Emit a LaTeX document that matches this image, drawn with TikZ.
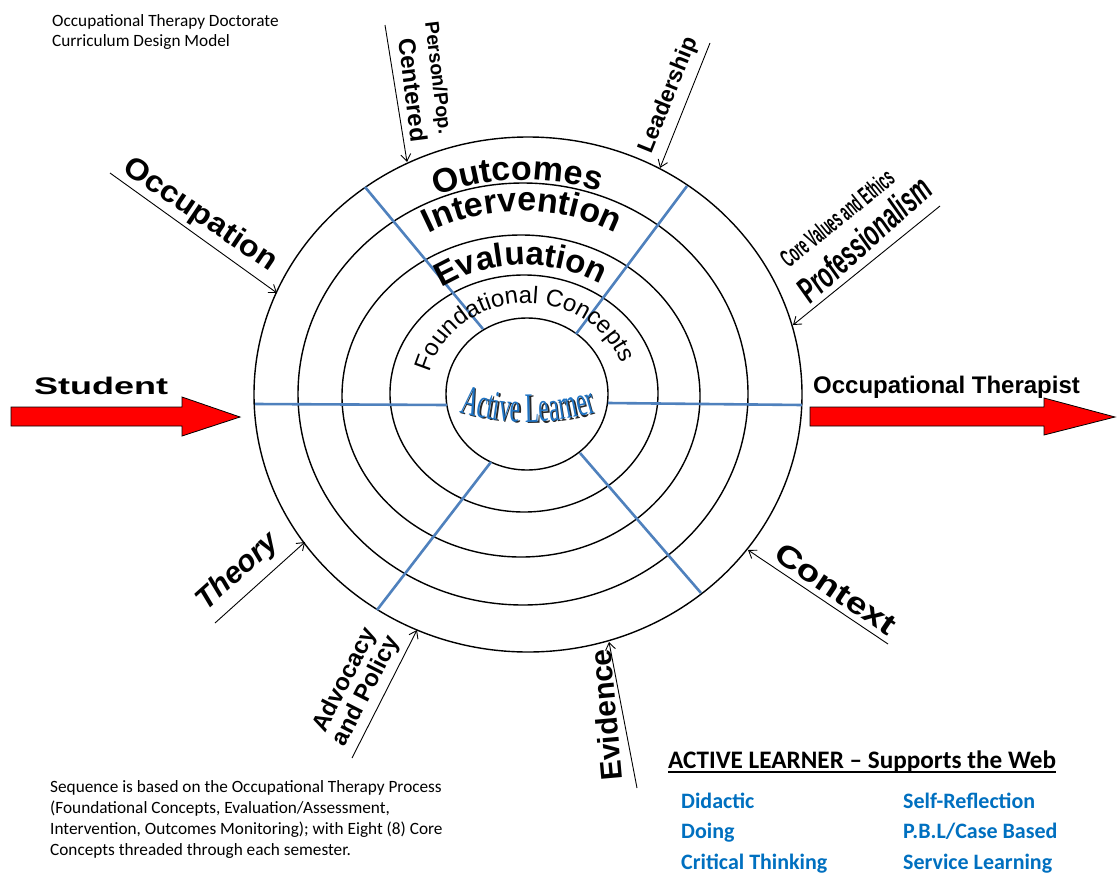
\documentclass[tikz,border=0pt]{standalone}
\usepackage{fontspec}
\usepackage{graphicx}
\setmainfont{Carlito}
\newfontfamily\lsans{Liberation Sans}
\newfontfamily\alserif[FakeStretch=0.55]{Liberation Serif}
\usetikzlibrary{decorations.text,arrows.meta}
\definecolor{spoke}{RGB}{79,129,189}
\definecolor{itemblue}{RGB}{0,112,192}
\definecolor{alblue}{RGB}{30,115,195}
\definecolor{arrowred}{RGB}{255,0,0}
\newcommand\myfs[1]{\fontsize{#1}{#1}\selectfont}
\begin{document}
\begin{tikzpicture}[x=1pt,y=1pt,
  ring/.style={draw=black,line width=1.4pt},
  spokeline/.style={draw=spoke,line width=2.6pt},
  feed/.style={draw=black,line width=0.9pt,-{Straight Barb[length=7pt,width=10pt]}},
  bigarrow/.style={draw=black,line width=0.8pt,fill=arrowred},
  lbl/.style={inner sep=0pt,font=\lsans\bfseries},
  body/.style={inner sep=0pt,anchor=base west,font=\myfs{17.25}},
  item/.style={inner sep=0pt,anchor=base west,font=\bfseries\myfs{22},text=itemblue}]
\fill[white] (0,0) rectangle (1117,-873);
\useasboundingbox (0,0) rectangle (1117,-873);

% rings
\draw[ring] (528,-394.5) ellipse [x radius=274pt, y radius=257.5pt];
\draw[ring] (523,-394) ellipse [x radius=225pt, y radius=211pt];
\draw[ring] (521,-396) ellipse [x radius=179pt, y radius=161pt];
\draw[ring] (524,-393.5) ellipse [x radius=134pt, y radius=118.5pt];
\draw[ring] (527,-394) ellipse [x radius=81pt, y radius=76pt];

% spokes
\coordinate (sL1) at (255,-404); \coordinate (sL2) at (447,-405);
\coordinate (sR1) at (802,-405); \coordinate (sR2) at (608,-403);
\coordinate (sUL1) at (365,-187); \coordinate (sUL2) at (483,-329);
\coordinate (sUR1) at (687,-186); \coordinate (sUR2) at (576,-334);
\coordinate (sLL1) at (377,-610); \coordinate (sLL2) at (491,-462);
\coordinate (sLR1) at (701,-593); \coordinate (sLR2) at (580,-453);
\foreach \s in {L,R,UL,UR,LL,LR} \draw[spokeline] (s\s1) -- (s\s2);

% ring texts
\path[decorate,decoration={text along path,text align=center,
  text={|\lsans\bfseries\myfs{34}|Outcomes}}]
  (525,-394) ++(150:232pt and 214pt) arc[start angle=150,end angle=34,x radius=232pt,y radius=214pt];
\path[decorate,decoration={text along path,text align=center,
  text={|\lsans\bfseries\myfs{34}|Intervention}}]
  (522,-396) ++(155:198pt and 185pt) arc[start angle=155,end angle=25,x radius=198pt,y radius=185pt];
\path[decorate,decoration={text along path,text align=center,
  text={|\lsans\bfseries\myfs{33}|Evaluation}}]
  (524,-394) ++(160:146pt and 129pt) arc[start angle=160,end angle=23,x radius=146pt,y radius=129pt];
\path[decorate,decoration={text along path,text align=center,
  text={|\lsans\myfs{24}|Foundational Concepts}}]
  (527,-394) ++(185:100pt and 91pt) arc[start angle=185,end angle=1,x radius=100pt,y radius=91pt];

% Active Learner
\path[decorate,decoration={text along path,text align=center,
  text={|\alserif\myfs{42}\color{black!85}|Active Learner}}]
  (529.5,-183.5) ++(245:240pt) arc[start angle=245,end angle=295,radius=240pt];
\path[decorate,decoration={text along path,text align=center,
  text={|\alserif\myfs{42}\color{alblue}|Active Learner}}]
  (528,-182) ++(245:240pt) arc[start angle=245,end angle=295,radius=240pt];

% big red arrows
\draw[bigarrow] (11,-407) -- (182,-407) -- (182,-397) -- (240,-417) -- (182,-436) -- (182,-426) -- (11,-426) -- cycle;
\draw[bigarrow] (810,-407) -- (1044,-407) -- (1044,-398) -- (1115,-417) -- (1044,-435) -- (1044,-426) -- (810,-426) -- cycle;
\node[lbl,anchor=base,font=\lsans\bfseries\myfs{24}] (student) at (101,-394) {\scalebox{1.5}[1]{Student}};
\node[lbl,anchor=base west,font=\lsans\bfseries\myfs{24}] (therapist) at (813,-393) {Occupational Therapist};

% feed arrows
\coordinate (pA) at (385,-25);  \coordinate (pB) at (407,-162);
\coordinate (lA) at (710,-43);  \coordinate (lB) at (660,-168);
\coordinate (cvA) at (940,-206); \coordinate (cvB) at (793,-325);
\coordinate (oA) at (110,-173); \coordinate (oB) at (277,-293);
\coordinate (tA) at (215,-623); \coordinate (tB) at (305,-542);
\coordinate (aA) at (352,-758); \coordinate (aB) at (417,-630);
\coordinate (eA) at (637,-788); \coordinate (eB) at (609,-642);
\coordinate (cA) at (888,-644); \coordinate (cB) at (748,-550);
\foreach \a in {p,l,cv,o,t,a,e,c} \draw[feed] (\a A) -- (\a B);

% labels
\node[lbl,rotate=-83,font=\lsans\bfseries\myfs{19.5}] (person) at (437,-78) {Person/Pop.};
\node[lbl,rotate=-83,font=\lsans\bfseries\myfs{24}] (centered) at (413,-90) {Centered};
\node[lbl,rotate=68,font=\lsans\bfseries\myfs{23}] (leadership) at (669,-95) {Leadership};
\node[lbl,rotate=39,font=\lsans\bfseries\myfs{25}] (corevalues) at (837,-218) {\scalebox{0.5}[1]{Core Values and Ethics}};
\node[lbl,rotate=42,font=\lsans\bfseries\itshape\myfs{36}] (prof) at (864,-239) {\scalebox{0.6}[1]{Professionalism}};
\node[lbl,rotate=-34,font=\lsans\bfseries\myfs{30}] (occupation) at (200,-215) {\scalebox{1.08}[1]{Occupation}};
\node[lbl,rotate=42,font=\lsans\bfseries\itshape\myfs{30}] (theory) at (238,-572) {Theory};
\node[lbl,rotate=63,align=center,font=\lsans\bfseries\fontsize{24}{24}\selectfont] (advocacy) at (356,-686) {Advocacy\\and Policy};
\node[lbl,rotate=95,font=\lsans\bfseries\myfs{30}] (evidence) at (606,-715) {Evidence};
\node[lbl,rotate=-34,font=\lsans\bfseries\myfs{30}] (context) at (836,-589) {\scalebox{1.25}[1]{Context}};

% text blocks
\node[body] (t1) at (52,-26) {Occupational Therapy Doctorate};
\node[body] (t2) at (52,-46.5) {Curriculum Design Model};
\node[body] (b1) at (50,-792) {Sequence is based on the Occupational Therapy Process};
\node[body] (b2) at (50,-813) {(Foundational Concepts, Evaluation/Assessment,};
\node[body] (b3) at (50,-834) {Intervention, Outcomes Monitoring); with Eight (8) Core};
\node[body] (b4) at (50,-855) {Concepts threaded through each semester.};

\node[inner sep=0pt,anchor=base west,font=\bfseries\myfs{25.2}] (hdr) at (668,-768) {ACTIVE LEARNER – Supports the Web};
\draw[line width=1.5pt] ([yshift=-4pt]hdr.base west) -- ([yshift=-4pt]hdr.base east);
\node[item] (i1) at (681,-808) {Didactic};
\node[item] (i2) at (681,-838) {Doing};
\node[item] (i3) at (681,-869) {Critical Thinking};
\node[item] (i4) at (903,-808) {Self-Reflection};
\node[item] (i5) at (903,-838) {P.B.L/Case Based};
\node[item] (i6) at (903,-869) {Service Learning};
\end{tikzpicture}
\end{document}
